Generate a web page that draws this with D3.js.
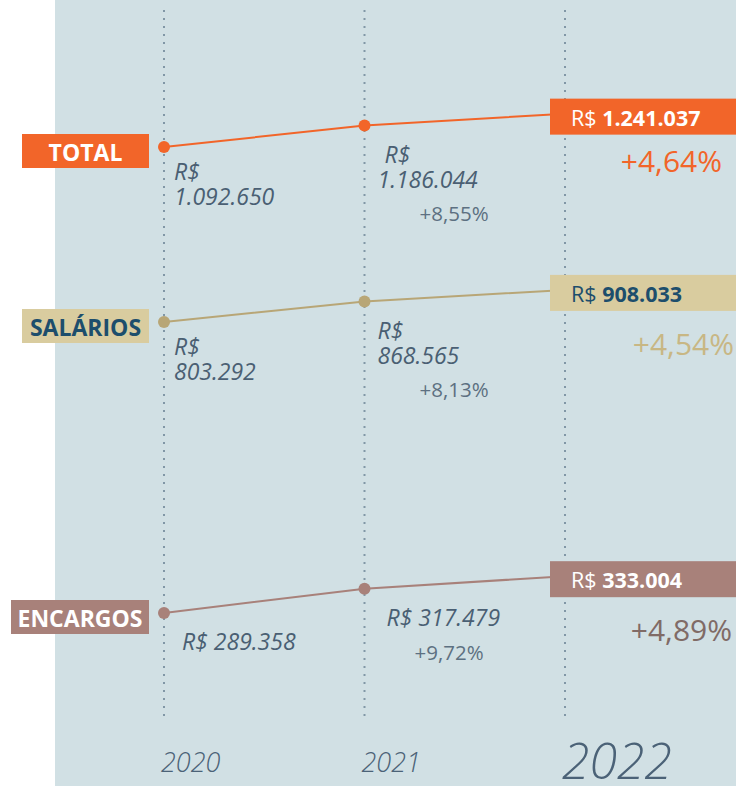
<!DOCTYPE html>
<html>
<head>
<meta charset="utf-8">
<script src="https://cdn.jsdelivr.net/npm/d3@7"></script>
<style>
  html, body { margin: 0; padding: 0; background: #ffffff; }
  svg { display: block; font-family: "Open Sans", "Noto Sans", sans-serif; }
</style>
</head>
<body>
<svg id="chart" width="736" height="786"></svg>
<script>
// Folha de pagamento: salários, encargos e total (R$), 2020–2022
const years = [2020, 2021, 2022];
const seriesNames = ["TOTAL", "SALÁRIOS", "ENCARGOS"];
const totalValues = [1092650, 1186044, 1241037];
const salariosValues = [803292, 868565, 908033];
const encargosValues = [289358, 317479, 333004];
const totalGrowth = ["+8,55%", "+4,64%"];
const salariosGrowth = ["+8,13%", "+4,54%"];
const encargosGrowth = ["+9,72%", "+4,89%"];

const fmt = d3.formatLocale({ decimal: ",", thousands: ".", grouping: [3], currency: ["R$ ", ""] }).format(",d");

// Visual style for each series
const styles = [
  { line: "#f26529", box: "#f26529", boxText: "#ffffff", pct: "#f26529", band: 147, wrap: true,  lx: [10, 13], pctX: 722, pctDy: 55, tagW: 127 },
  { line: "#b8a676", box: "#d9cc9f", boxText: "#1d4e6c", pct: "#c8b784", band: 322, wrap: true,  lx: [10, 13], pctX: 734, pctDy: 62, tagW: 127 },
  { line: "#a8817a", box: "#a8817a", boxText: "#ffffff", pct: "#806b66", band: 613, wrap: false, lx: [18, 22], pctX: 732, pctDy: 62, tagW: 138 }
];

const series = [
  { name: seriesNames[0], values: totalValues, growth: totalGrowth },
  { name: seriesNames[1], values: salariosValues, growth: salariosGrowth },
  { name: seriesNames[2], values: encargosValues, growth: encargosGrowth }
].map((s, i) => Object.assign(s, styles[i]));

const svg = d3.select("#chart");
const W = 736, H = 786;

// Panel background
svg.append("rect").attr("x", 55).attr("y", 0).attr("width", W - 55).attr("height", H).attr("fill", "#d1e0e4");

const x = d3.scaleLinear().domain([2020, 2022]).range([164, 565]);

// Dotted year guides
svg.append("g").selectAll("line").data(years).join("line")
  .attr("x1", d => x(d)).attr("x2", d => x(d))
  .attr("y1", 10).attr("y2", 718)
  .attr("stroke", "#8197a6").attr("stroke-width", 2)
  .attr("stroke-dasharray", "2 6");

// Year labels
svg.append("g").selectAll("text").data(years).join("text")
  .attr("x", d => x(d) - 3)
  .attr("y", d => d === 2022 ? 779 : 772)
  .attr("font-size", d => d === 2022 ? 50 : 27)
  .attr("font-weight", 300)
  .attr("font-style", "italic")
  .attr("fill", "#4b6277")
  .text(d => d);

// Growth is shown on a log scale, each series anchored at its own band
const K = 262;
series.forEach(s => {
  s.y = d3.scaleLog().domain([s.values[0], s.values[0] * Math.E]).range([s.band, s.band - K]);
});

series.forEach(s => {
  const g = svg.append("g");
  const pts = years.map((yr, i) => ({ yr, v: s.values[i] }));

  g.append("path").datum(pts)
    .attr("d", d3.line().x(d => x(d.yr)).y(d => s.y(d.v)))
    .attr("fill", "none").attr("stroke", s.line).attr("stroke-width", 2);

  g.selectAll("circle").data(pts.slice(0, 2)).join("circle")
    .attr("cx", d => x(d.yr)).attr("cy", d => s.y(d.v)).attr("r", 6)
    .attr("fill", s.line);

  // Series tag on the left
  const ty = s.y(s.values[0]);
  const tagX = 149 - s.tagW;
  g.append("rect").attr("x", tagX).attr("y", ty - 13).attr("width", s.tagW).attr("height", 34).attr("fill", s.box);
  g.append("text").attr("x", tagX + s.tagW / 2).attr("y", ty + 14)
    .attr("text-anchor", "middle").attr("font-size", 23).attr("font-weight", 700)
    .attr("fill", s.boxText).text(s.name);

  // Value labels for 2020 and 2021
  [0, 1].forEach(i => {
    const px = x(years[i]) + s.lx[i];
    const py = s.y(s.values[i]);
    const t = g.append("text").attr("font-size", 23).attr("font-weight", 500)
      .attr("font-style", "italic").attr("fill", "#4a5f73");
    if (s.wrap) {
      t.append("tspan").attr("x", px + (i === 1 && s.name === "TOTAL" ? 7 : 0)).attr("y", py + 33 + (i === 1 ? 4 : 0)).text("R$");
      t.append("tspan").attr("x", px).attr("y", py + 58 + (i === 1 ? 4 : 0)).text(fmt(s.values[i]));
    } else {
      t.attr("x", px).attr("y", py + 37).text("R$ " + fmt(s.values[i]));
    }
    if (i === 1) {
      g.append("text").attr("x", px + (s.wrap ? 42 : 28)).attr("y", py + (s.wrap ? 95 : 71))
        .attr("font-size", 20.5).attr("fill", "#5d7081").text(s.growth[0]);
    }
  });

  // 2022 value box
  const by = s.y(s.values[2]) + 3;
  g.append("rect").attr("x", 550).attr("y", by - 18).attr("width", 186).attr("height", 36).attr("fill", s.box);
  const bt = g.append("text").attr("x", 571).attr("y", by + 9).attr("font-size", 21.5).attr("fill", s.boxText);
  bt.append("tspan").text("R$ ");
  bt.append("tspan").attr("font-weight", 700).text(fmt(s.values[2]));

  g.append("text").attr("x", s.pctX).attr("y", by + s.pctDy)
    .attr("text-anchor", "end").attr("font-size", 30).attr("fill", s.pct).text(s.growth[1]);
});
</script>
</body>
</html>
